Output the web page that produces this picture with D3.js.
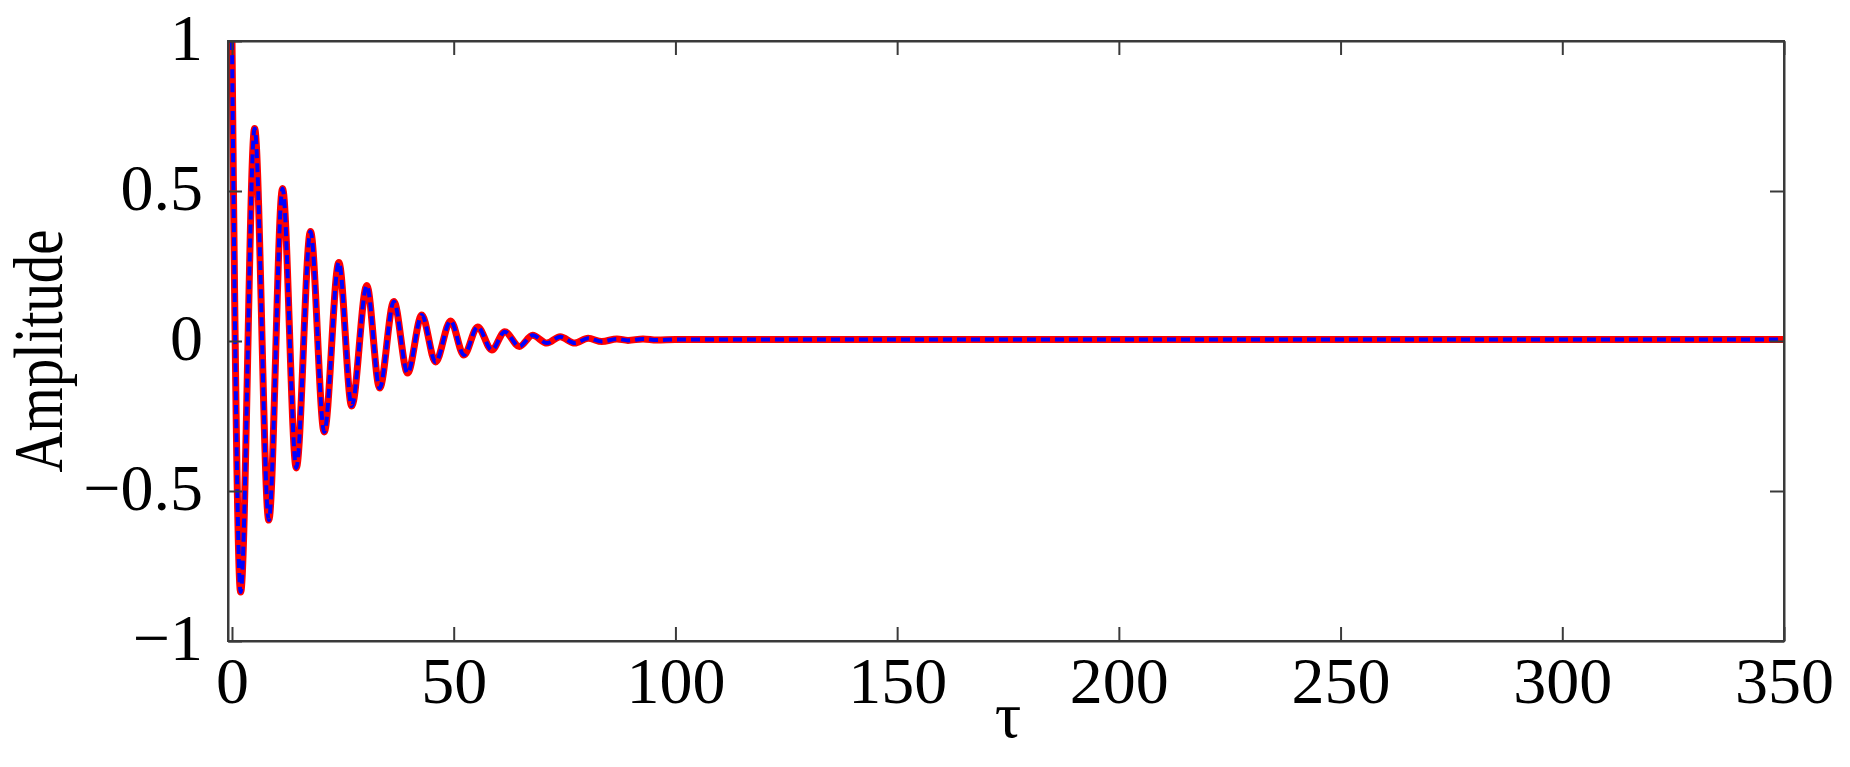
<!DOCTYPE html>
<html>
<head>
<meta charset="utf-8">
<script src="https://cdn.jsdelivr.net/npm/d3@7"></script>
<style>
  html, body { margin: 0; padding: 0; background: #ffffff; }
  svg { display: block; }
</style>
</head>
<body>
<svg id="chart" width="1850" height="767"></svg>
<script>
// ---- Data (extrema of the damped oscillation) ----
const tau = [0, 0.3, 1.95, 5.1, 8.3, 11.4, 14.5, 17.7, 20.8, 24.1, 27.0, 30.4, 33.3, 36.5, 39.6, 42.8,
             45.9, 49.3, 52.3, 55.4, 58.6, 61.5, 64.8, 67.8, 71.0, 74.0, 77.3, 80.3, 83.4, 86.8,
             89.3, 92.7, 95.8, 100, 150, 200, 250, 300, 350];
const amplitude = [1.0, 0.55, -0.837, 0.708, -0.597, 0.508, -0.423, 0.365, -0.303, 0.262, -0.217, 0.185,
                   -0.157, 0.132, -0.107, 0.087, -0.07, 0.067, -0.047, 0.047, -0.03, 0.031, -0.018, 0.019,
                   -0.007, 0.014, -0.007, 0.009, -0.002, 0.007, 0.002, 0.007, 0.003, 0.005, 0.005, 0.005,
                   0.005, 0.005, 0.005];
const xTicks = [0, 50, 100, 150, 200, 250, 300, 350];
const yTicks = [-1, -0.5, 0, 0.5, 1];
const yTickLabels = ["\u22121", "\u22120.5", "0", "0.5", "1"];
const xLabel = "\u03c4";
const yLabel = "Amplitude";

// ---- Layout ----
const L = 228, R = 1784, T = 41, B = 641;
const svg = d3.select("#chart");
const x = d3.scaleLinear().domain([-0.9, 350]).range([L, R]);
const y = d3.scaleLinear().domain([-1, 1]).range([B, T]);
const font = "'Liberation Serif', 'Times New Roman', serif";
const axisColor = "#3a3a3a";
const tickLen = 14;

const pts = tau.map((t, i) => [t, amplitude[i]]);

svg.append("defs").append("clipPath").attr("id", "clip")
  .append("rect").attr("x", L).attr("y", T).attr("width", R - L).attr("height", B - T);

const line = d3.line().x(d => x(d[0])).y(d => y(d[1])).curve(d3.curveMonotoneX);

const g = svg.append("g").attr("clip-path", "url(#clip)");
g.append("path").datum(pts).attr("d", line)
  .attr("fill", "none").attr("stroke", "#ff0000").attr("stroke-width", 7)
  .attr("stroke-linejoin", "round");
g.append("path").datum(pts).attr("d", line)
  .attr("fill", "none").attr("stroke", "#0000ff").attr("stroke-width", 4)
  .attr("stroke-dasharray", "9,5");

// ---- Axes (box with inward ticks on all sides) ----
function styleAxis(sel) {
  sel.select(".domain").attr("stroke", axisColor).attr("stroke-width", 2);
  sel.selectAll(".tick line").attr("stroke", axisColor).attr("stroke-width", 2);
}
const xb = svg.append("g").attr("transform", `translate(0,${B})`)
  .call(d3.axisBottom(x).tickValues(xTicks).tickSizeInner(-tickLen).tickSizeOuter(0).tickPadding(17).tickFormat(d3.format("d")));
const xt = svg.append("g").attr("transform", `translate(0,${T})`)
  .call(d3.axisTop(x).tickValues(xTicks).tickSizeInner(-tickLen).tickSizeOuter(0).tickFormat(""));
const yl = svg.append("g").attr("transform", `translate(${L},0)`)
  .call(d3.axisLeft(y).tickValues(yTicks).tickSizeInner(-tickLen).tickSizeOuter(0).tickPadding(25)
    .tickFormat((d, i) => yTickLabels[i]));
const yr = svg.append("g").attr("transform", `translate(${R},0)`)
  .call(d3.axisRight(y).tickValues(yTicks).tickSizeInner(-tickLen).tickSizeOuter(0).tickFormat(""));
[xb, xt, yl, yr].forEach(styleAxis);

// full box lines
svg.append("rect").attr("x", L).attr("y", T).attr("width", R - L).attr("height", B - T)
  .attr("fill", "none").attr("stroke", axisColor).attr("stroke-width", 2);

xb.selectAll(".tick text").attr("font-family", font).attr("font-size", 66).attr("fill", "#000")
  .attr("dy", null).attr("y", 62);
yl.selectAll(".tick text").attr("font-family", font).attr("font-size", 66).attr("fill", "#000")
  .attr("dy", null).attr("y", 18);

// ---- Axis titles ----
svg.append("text").attr("x", 1008).attr("y", 737).attr("text-anchor", "middle")
  .attr("font-family", font).attr("font-size", 66).attr("fill", "#000").text(xLabel);
svg.append("text").attr("transform", "translate(62,351) rotate(-90)").attr("text-anchor", "middle")
  .attr("font-family", font).attr("font-size", 70).attr("fill", "#000")
  .attr("textLength", 243).attr("lengthAdjust", "spacingAndGlyphs").text(yLabel);
</script>
</body>
</html>
